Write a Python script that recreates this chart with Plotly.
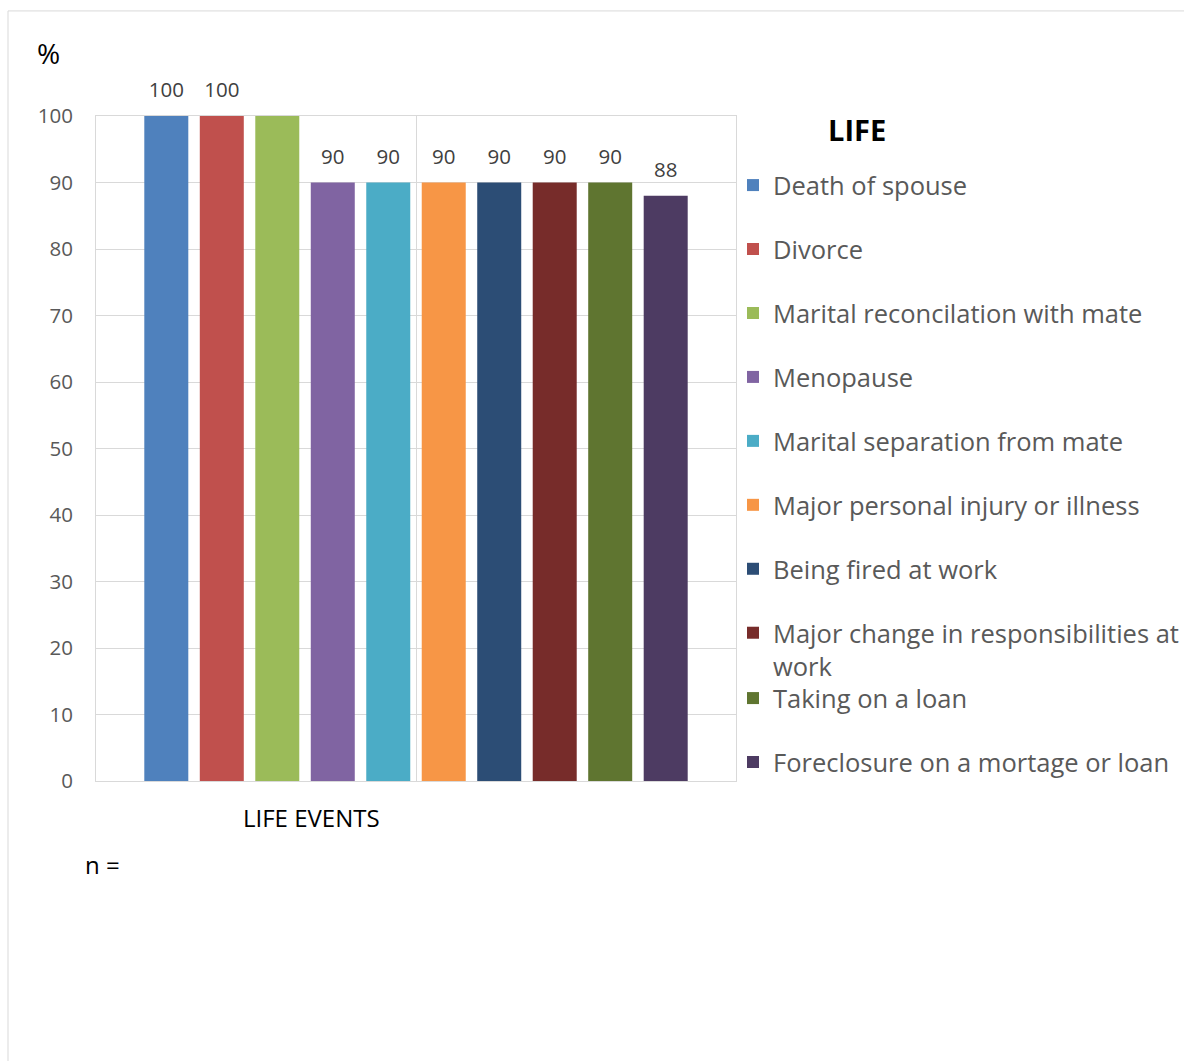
import plotly.graph_objects as go

categories = ["LIFE EVENTS"]
series_names = [
    "Death of spouse",
    "Divorce",
    "Marital reconcilation with mate",
    "Menopause",
    "Marital separation from mate",
    "Major personal injury or illness",
    "Being fired at work",
    "Major change in responsibilities at<br>work",
    "Taking on a loan",
    "Foreclosure on a mortage or loan",
]
values = [100, 100, 100, 90, 90, 90, 90, 90, 90, 88]
data_labels = ["100", "100", "", "90", "90", "90", "90", "90", "90", "88"]
colors = ["#4F81BD", "#C0504D", "#9BBB59", "#8064A2", "#4BACC6",
          "#F79646", "#2C4D75", "#772C2A", "#5F7530", "#4D3B62"]
y_ticks = [0, 10, 20, 30, 40, 50, 60, 70, 80, 90, 100]

FONT = "Open Sans, sans-serif"
W, H = 1184, 1061

fig = go.Figure()
for i, (name, v, c) in enumerate(zip(series_names, values, colors)):
    fig.add_trace(go.Bar(
        x=categories, y=[v], name=name,
        marker=dict(color=c, line=dict(width=0)),
        legendgroup=f"g{i}",
        legend="legend" if i < 8 else "legend2",
    ))
# data labels, grouped like the bars
for i, (v, lab) in enumerate(zip(values, data_labels)):
    fig.add_trace(go.Scatter(
        x=categories, y=[v], text=[lab], mode="markers+text",
        textposition="top center", cliponaxis=False,
        marker=dict(size=20, opacity=0),
        textfont=dict(size=20.5, color="#404040", family=FONT),
        showlegend=False, hoverinfo="skip",
    ))

legend_common = dict(
    font=dict(size=25.5, color="#595959", family=FONT),
    tracegroupgap=27.8, valign="top", bgcolor="rgba(0,0,0,0)",
    xref="container", yref="container",
    xanchor="left", yanchor="top", x=733 / W,
)

fig.update_layout(
    width=W, height=H,
    margin=dict(l=96, r=448, t=116, b=280, autoexpand=False),
    paper_bgcolor="white", plot_bgcolor="white",
    barmode="group", bargap=0.133, bargroupgap=0.207,
    scattermode="group", scattergap=0.133,
    font=dict(family=FONT, color="#595959"),
    legend=dict(y=(H - 162) / H, **legend_common),
    legend2=dict(y=(H - 675) / H, **legend_common),
    xaxis=dict(type="category", showticklabels=False, showgrid=True,
               gridcolor="#d9d9d9", showline=True, mirror=True,
               linecolor="#d9d9d9", zeroline=False),
    yaxis=dict(range=[0, 100], tickvals=y_ticks, showgrid=True,
               gridcolor="#d9d9d9", showline=True, mirror=True,
               linecolor="#d9d9d9", zeroline=False,
               tickfont=dict(size=20.5, color="#595959", family=FONT),
               ticklabelstandoff=18),
    annotations=[
        dict(text="%", x=-0.075, y=1.095, xref="paper", yref="paper",
             xanchor="center", yanchor="middle",
             showarrow=False, font=dict(size=28, color="black", family=FONT)),
        dict(text="LIFE EVENTS", x=0.336, y=-0.0556, xref="paper", yref="paper",
             xanchor="center", yanchor="middle",
             showarrow=False, font=dict(size=24, color="black", family=FONT)),
        dict(text="n =", x=-0.0203, y=-0.1263, xref="paper", yref="paper",
             xanchor="left", yanchor="middle", showarrow=False,
             font=dict(size=24, color="black", family=FONT)),
        dict(text="<b>LIFE</b>", x=1.189, y=0.979, xref="paper", yref="paper",
             xanchor="center", yanchor="middle",
             showarrow=False, font=dict(size=29, color="black", family=FONT)),
    ],
    shapes=[
        dict(type="rect", xref="paper", yref="paper",
             x0=-0.1375, x1=2.0, y0=-1.0, y1=1.158,
             line=dict(color="#d9d9d9", width=1), fillcolor="rgba(0,0,0,0)",
             layer="below"),
    ],
)

fig.write_html("out.html")
